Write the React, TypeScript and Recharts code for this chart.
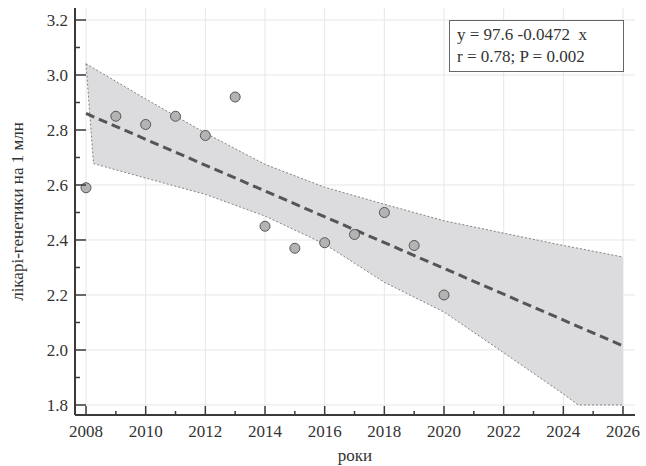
import React from 'react';
import {
  ComposedChart,
  XAxis,
  YAxis,
  CartesianGrid,
  Area,
  Line,
  Scatter,
  Label,
} from 'recharts';

// observed values
const years = [2008, 2009, 2010, 2011, 2012, 2013, 2014, 2015, 2016, 2017, 2018, 2019, 2020];
const doctorsPerMillion = [2.59, 2.85, 2.82, 2.85, 2.78, 2.92, 2.45, 2.37, 2.39, 2.42, 2.5, 2.38, 2.2];

// regression line
const fitYears = [2008, 2026];
const fitValues = [2.86, 2.015];

// confidence band
const bandYears = [2008, 2008.25, 2010, 2012, 2014, 2016, 2018, 2020, 2022, 2024, 2024.5, 2026];
const bandUpper = [3.041, 3.025, 2.913, 2.789, 2.675, 2.592, 2.53, 2.47, 2.425, 2.38, 2.37, 2.338];
const bandLower = [3.041, 2.678, 2.625, 2.566, 2.487, 2.385, 2.246, 2.138, 1.99, 1.84, 1.8, 1.8];

// ticks
const xTicks = [2008, 2009, 2010, 2011, 2012, 2013, 2014, 2015, 2016, 2017, 2018, 2019, 2020, 2021, 2022, 2023, 2024, 2025, 2026];
const xMajor = [2008, 2010, 2012, 2014, 2016, 2018, 2020, 2022, 2024, 2026];
const yTicks = [1.8, 1.9, 2.0, 2.1, 2.2, 2.3, 2.4, 2.5, 2.6, 2.7, 2.8, 2.9, 3.0, 3.1, 3.2];
const yMajor = [1.8, 2.0, 2.2, 2.4, 2.6, 2.8, 3.0, 3.2];

const xDomain = [2007.631, 2026.402];
const yDomain = [1.7636, 3.2436];

const equationText = 'y = 97.6 -0.0472  x';
const statsText = 'r = 0.78; P = 0.002';
const xTitle = 'роки';
const yTitle = 'лікарі-генетики на 1 млн';

const pointData = years.map((x, i) => ({ x, y: doctorsPerMillion[i] }));
const fitData = fitYears.map((x, i) => ({ x, y: fitValues[i] }));
const bandData = bandYears.map((x, i) => ({ x, band: [bandLower[i], bandUpper[i]] }));

const FONT = '"Liberation Serif", "Times New Roman", serif';
const AXIS = '#3a3a3a';
const TEXT = '#333333';

const isMajorX = (v: number) => xMajor.includes(v);
const isMajorY = (v: number) => yMajor.some((m) => Math.abs(m - v) < 1e-6);

const XTick = (props: any) => {
  const { x, y, payload } = props;
  const v = payload.value;
  const major = isMajorX(v);
  return (
    <g>
      <line x1={x} x2={x} y1={y} y2={y - (major ? 9 : 4)} stroke={AXIS} strokeWidth={1.5} />
      {major && (
        <text x={x} y={y + 22} textAnchor="middle" fontSize={17} fontFamily={FONT} fill={TEXT}>
          {v}
        </text>
      )}
    </g>
  );
};

const YTick = (props: any) => {
  const { x, y, payload } = props;
  const v = payload.value;
  const major = isMajorY(v);
  return (
    <g>
      <line x1={x} x2={x + (major ? 11 : 5)} y1={y} y2={y} stroke={AXIS} strokeWidth={1.5} />
      {major && (
        <text x={x - 7} y={y} dy="0.35em" textAnchor="end" fontSize={17} fontFamily={FONT} fill={TEXT}>
          {v.toFixed(1)}
        </text>
      )}
    </g>
  );
};

const Dot = (props: any) => {
  const { cx, cy } = props;
  return <circle cx={cx} cy={cy} r={5} fill="#b3b3b3" stroke="#555" strokeWidth={1} />;
};

export default function App() {
  return (
    <div style={{ position: 'absolute', left: 0, top: 0, width: 646, height: 466, background: '#fff' }}>
      <ComposedChart
        width={646}
        height={466}
        margin={{ top: 8, right: 11, left: 15, bottom: 0 }}
      >
        <CartesianGrid
          stroke="#e6e6e6"
          strokeWidth={1}
          verticalValues={xMajor}
          horizontalValues={yMajor}
        />
        <XAxis
          type="number"
          dataKey="x"
          domain={xDomain}
          allowDataOverflow
          ticks={xTicks}
          interval={0}
          height={51}
          tickSize={0}
          tickMargin={0}
          tick={<XTick />}
          axisLine={{ stroke: AXIS, strokeWidth: 2 }}
        >
          <Label
            value={xTitle}
            position="insideBottom"
            offset={5}
            style={{ fontSize: 17, fontFamily: FONT, fill: TEXT }}
          />
        </XAxis>
        <YAxis
          type="number"
          dataKey="y"
          domain={yDomain}
          allowDataOverflow
          ticks={yTicks}
          interval={0}
          width={60}
          tickSize={0}
          tickMargin={0}
          tick={<YTick />}
          axisLine={{ stroke: AXIS, strokeWidth: 2 }}
        >
          <Label
            content={(p: any) => {
              const vb = p.viewBox || {};
              const cy = (vb.y || 0) + (vb.height || 0) / 2;
              const cx = 23;
              return (
                <text
                  x={cx}
                  y={cy}
                  transform={`rotate(-90 ${cx} ${cy})`}
                  textAnchor="middle"
                  fontSize={17}
                  fontFamily={FONT}
                  fill={TEXT}
                >
                  {yTitle}
                </text>
              );
            }}
          />
        </YAxis>
        <Area
          data={bandData}
          dataKey="band"
          type="linear"
          fill="#dcdcdf"
          fillOpacity={1}
          stroke="#666"
          strokeWidth={0.8}
          strokeDasharray="2 2"
          isAnimationActive={false}
          activeDot={false}
          dot={false}
        />
        <Line
          data={fitData}
          dataKey="y"
          type="linear"
          stroke="#555"
          strokeWidth={3}
          strokeDasharray="9 5"
          dot={false}
          activeDot={false}
          isAnimationActive={false}
        />
        <Scatter data={pointData} dataKey="y" shape={<Dot />} isAnimationActive={false} />
      </ComposedChart>
      <div
        style={{
          position: 'absolute',
          left: 449,
          top: 20,
          width: 175,
          height: 52,
          boxSizing: 'border-box',
          border: '1px solid #666',
          background: '#fff',
          paddingLeft: 7,
          paddingTop: 3,
          fontFamily: FONT,
          fontSize: 17,
          lineHeight: '22px',
          color: TEXT,
          whiteSpace: 'pre',
        }}
      >
        <div>{equationText}</div>
        <div>{statsText}</div>
      </div>
    </div>
  );
}
